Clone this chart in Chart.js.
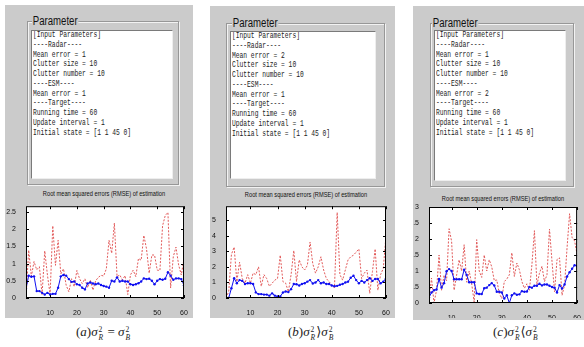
<!DOCTYPE html>
<html lang="en">
<head>
<meta charset="UTF-8">
<title>RMSE of estimation</title>
<script src="https://cdn.jsdelivr.net/npm/chart.js"></script>
<style>
    body {
        margin: 0;
        width: 584px;
        height: 347px;
        position: relative;
        overflow: hidden;
        background: #ffffff;
        font-family: 'Liberation Sans', Arial, sans-serif;
    }
    .panel { position: absolute; background: #cbcbcb; }
    .group {
        position: absolute;
        border: 1px solid #979797;
        box-shadow: 1px 1px 0 #f2f2f2, inset 1px 1px 0 #f2f2f2;
    }
    .group .legend {
        position: absolute;
        top: -8px;
        background: #cbcbcb;
        padding: 0 1px;
        font-size: 12px;
        line-height: 14px;
        color: #111;
        transform: scaleX(0.8);
        transform-origin: left center;
    }
    .textbox {
        position: absolute;
        background: #ffffff;
        border-top: 1px solid #7a7a7a;
        border-left: 1px solid #7a7a7a;
        border-right: 1px solid #eeeeee;
        border-bottom: 1px solid #eeeeee;
        overflow: hidden;
    }
    .textbox pre {
        margin: 0 0 0 1px;
        font-family: 'Liberation Mono', monospace;
        font-size: 8.5px;
        line-height: 9.77px;
        color: #222;
        transform: scaleX(0.74);
        transform-origin: left top;
    }
    .ctitle {
        position: absolute;
        font-size: 7.5px;
        line-height: 8px;
        color: #111;
        white-space: nowrap;
        transform: translateX(-50%) scaleX(0.76);
    }
    canvas { position: absolute; }
    .caption {
        position: absolute;
        top: 324px;
        font-family: 'Liberation Serif', 'DejaVu Serif', serif;
        font-size: 13px;
        color: #222;
        white-space: nowrap;
    }
    .ss {
        display: inline-flex;
        flex-direction: column;
        font-size: 7.5px;
        line-height: 8px;
        vertical-align: 4px;
        margin: 0 1px;
    }
</style>
</head>
<body>
    <div class="panel" style="left:5px;top:5px;width:188px;height:313px"></div>
    <div class="panel" style="left:210px;top:6px;width:185px;height:312px"></div>
    <div class="panel" style="left:413px;top:6px;width:171px;height:314px"></div>

    <div class="group" style="left:27px;top:21px;width:150px;height:162px"><span class="legend" style="left:4px">Parameter</span></div>
    <div class="group" style="left:226px;top:23px;width:157px;height:162px"><span class="legend" style="left:5px">Parameter</span></div>
    <div class="group" style="left:430px;top:23px;width:142px;height:162px"><span class="legend" style="left:1px">Parameter</span></div>

    <div class="textbox" style="left:31px;top:30px;width:140px;height:147px"><pre id="paramsA"></pre></div>
    <div class="textbox" style="left:230px;top:31px;width:144px;height:146px"><pre id="paramsB"></pre></div>
    <div class="textbox" style="left:434px;top:30px;width:130px;height:149px"><pre id="paramsC"></pre></div>

    <div class="ctitle" style="left:104px;top:190px">Root mean squared errors (RMSE) of estimation</div>
    <div class="ctitle" style="left:306px;top:191px">Root mean squared errors (RMSE) of estimation</div>
    <div class="ctitle" style="left:503px;top:195px">Root mean squared errors (RMSE) of estimation</div>

    <canvas id="chartA" width="186" height="116" style="left:6px;top:200px"></canvas>
    <canvas id="chartB" width="184" height="116" style="left:210px;top:200px"></canvas>
    <canvas id="chartC" width="171" height="118" style="left:413px;top:200px"></canvas>

    <div class="caption" style="left:76px">(<i>a</i>)<i>σ</i><span class="ss"><span>2</span><i>R</i></span> = <i>σ</i><span class="ss"><span>2</span><i>B</i></span></div>
    <div class="caption" style="left:288px">(<i>b</i>)<i>σ</i><span class="ss"><span>2</span><i>R</i></span>⟩<i>σ</i><span class="ss"><span>2</span><i>B</i></span></div>
    <div class="caption" style="left:493px">(<i>c</i>)<i>σ</i><span class="ss"><span>2</span><i>R</i></span>⟨<i>σ</i><span class="ss"><span>2</span><i>B</i></span></div>

<script>
    // parameter text shown in the three boxes
    const paramsA = ["[Input Parameters]", "----Radar----", "Mean error = 1", "Clutter size = 10", "Clutter number = 10",
        "----ESM----", "Mean error = 1", "----Target----", "Running time = 60", "Update interval = 1", "Initial state = [1 1 45 0]"];
    const paramsB = ["[Input Parameters]", "----Radar----", "Mean error = 2", "Clutter size = 10", "Clutter number = 10",
        "----ESM----", "Mean error = 1", "----Target----", "Running time = 60", "Update interval = 1", "Initial state = [1 1 45 0]"];
    const paramsC = ["[Input Parameters]", "----Radar----", "Mean error = 1", "Clutter size = 10", "Clutter number = 10",
        "----ESM----", "Mean error = 2", "----Target----", "Running time = 60", "Update interval = 1", "Initial state = [1 1 45 0]"];

    // time steps
    const steps = [1, 2, 3, 4, 5, 6, 7, 8, 9, 10, 11, 12, 13, 14, 15, 16, 17, 18, 19, 20,
        21, 22, 23, 24, 25, 26, 27, 28, 29, 30, 31, 32, 33, 34, 35, 36, 37, 38, 39, 40,
        41, 42, 43, 44, 45, 46, 47, 48, 49, 50, 51, 52, 53, 54, 55, 56, 57, 58, 59, 60];
    const xTicks = [10, 20, 30, 40, 50, 60];

    // (a) red dotted and blue marked RMSE
    const redA = [0, 1.39, 0.63, 1.06, 0.82, 0.91, 0.1, 1.37, 0.67, 0.1, 2.1, 0.95, 1.68, 0.7, 0.85, 0.37, 0.18, 0.56, 0.33, 0.8,
        0.56, 0.42, 0.56, 0.3, 0.52, 0.23, 0.5, 0.6, 0.66, 0.64, 0.85, 1.68, 1.3, 2.18, 0.62, 0.67, 0.53, 0.65, 0.1, 0.67,
        0.81, 0.62, 1.15, 1.1, 1.82, 1.43, 0.72, 1.25, 1.25, 0.81, 0.8, 2.1, 2.4, 2.49, 0.29, 1.2, 1.48, 0.96, 0.67, 1.15];
    const blueA = [0.27, 0.65, 0.62, 0.63, 0.2, 0.2, 0.15, 0.1, 0.15, 0.1, 0.12, 0.12, 0.3, 0.63, 0.67, 0.65, 0.55, 0.47, 0.48, 0.4,
        0.38, 0.3, 0.25, 0.42, 0.45, 0.42, 0.4, 0.42, 0.38, 0.35, 0.33, 0.3, 0.5, 0.48, 0.6, 0.48, 0.5, 0.48, 0.48, 0.4,
        0.38, 0.4, 0.43, 0.48, 0.57, 0.55, 0.56, 0.5, 0.4, 0.5, 0.55, 0.53, 0.56, 0.75, 0.65, 0.53, 0.57, 0.57, 0.55, 0.37];
    const yTicksA = [0, 0.5, 1, 1.5, 2, 2.5];

    // (b)
    const redB = [0, 0.4, 2.8, 3.27, 1.05, 2.3, 1.25, 0.95, 1.5, 0.95, 1.6, 1.5, 2.0, 0.75, 1.5, 1.25, 0.75, 0.95, 1.15, 1.25,
        2.75, 1.05, 0.95, 0.4, 1.5, 3.05, 1.05, 2.45, 2.0, 1.8, 2.1, 3.6, 2.2, 1.6, 2.0, 2.65, 1.8, 1.25, 1.05, 0.85,
        0.65, 5.5, 1.5, 1.15, 1.8, 2.45, 2.65, 2.75, 2.95, 3.15, 1.25, 1.6, 1.8, 0.3, 1.7, 3.15, 0.5, 1.5, 1.9, 4.0];
    const blueB = [0, 0, 0.63, 1.27, 0.95, 1.15, 1.1, 0.9, 0.95, 0.95, 0.9, 0.36, 0.25, 0.25, 0.22, 0.22, 0.15, 0.3, 0.15, 0.1,
        0.1, 0.35, 0.42, 0.38, 0.57, 0.9, 0.88, 0.8, 0.9, 0.95, 1.05, 1.15, 0.93, 1.0, 1.15, 0.95, 1.0, 0.9, 0.9, 0.8,
        0.76, 0.78, 0.85, 0.9, 1.0, 1.05, 1.3, 1.43, 1.15, 0.95, 1.1, 1.0, 1.15, 1.27, 1.1, 1.22, 1.22, 0.95, 1.05, 1.27];
    const yTicksB = [0, 1, 2, 3, 4, 5];

    // (c)
    const redC = [0.1, 0.78, 0, 0.4, 1.5, 0.4, 0.87, 0.7, 2.32, 1.93, 0.4, 0.87, 1.35, 1.0, 1.82, 0.65, 1.0, 0.6, 0.03, 1.98,
        1.0, 0.8, 1.5, 1.0, 1.35, 1.13, 0.7, 0.72, 0.3, 0.14, 0.67, 0.75, 0.88, 1.57, 0.83, 1.25, 1.04, 0.67, 0.46, 0.6,
        0.4, 1.2, 2.26, 0.56, 0.93, 1.15, 0.67, 0.88, 2.31, 1.3, 0.35, 1.36, 1.41, 0.24, 0.56, 1.73, 2.79, 2.05, 1.94, 1.52];
    const blueC = [0.17, 0.33, 0.4, 0.42, 0.75, 0.48, 0.62, 0.99, 1.06, 1.0, 0.74, 0.74, 0.74, 0.74, 1.04, 0.88, 0.65, 0.65, 0.65, 0.3,
        0.28, 0.28, 0.46, 0.48, 0.56, 0.62, 0.55, 0.35, 0.35, 0.33, 0.14, 0.24, 0.0, 0.24, 0.3, 0.26, 0.27, 0.37, 0.35, 0.36,
        0.5, 0.48, 0.54, 0.54, 0.6, 0.55, 0.58, 0.58, 0.54, 0.5, 0.48, 0.33, 0.56, 0.45, 0.58, 0.83, 0.96, 1.07, 1.18, 1.15];
    const yTicksC = [0, 0.5, 1, 1.5, 2, 2.5, 3];

    document.getElementById("paramsA").textContent = paramsA.join("\n");
    document.getElementById("paramsB").textContent = paramsB.join("\n");
    document.getElementById("paramsC").textContent = paramsC.join("\n");

    // white plot area, black box and inward ticks like a matlab axes
    const axesBox = {
        id: 'axesBox',
        beforeDraw(chart) {
            const a = chart.chartArea;
            chart.ctx.save();
            chart.ctx.fillStyle = '#ffffff';
            chart.ctx.fillRect(a.left, a.top, a.right - a.left, a.bottom - a.top);
            chart.ctx.restore();
        },
        afterDatasetsDraw(chart) {
            const ctx = chart.ctx, a = chart.chartArea, x = chart.scales.x, y = chart.scales.y;
            ctx.save();
            ctx.strokeStyle = '#000';
            ctx.lineWidth = 1;
            ctx.strokeRect(a.left + 0.5, a.top + 0.5, a.right - a.left - 1, a.bottom - a.top - 1);
            ctx.beginPath();
            x.ticks.forEach(t => {
                const px = Math.round(x.getPixelForValue(t.value)) + 0.5;
                ctx.moveTo(px, a.bottom); ctx.lineTo(px, a.bottom - 3);
                ctx.moveTo(px, a.top); ctx.lineTo(px, a.top + 3);
            });
            y.ticks.forEach(t => {
                const py = Math.round(y.getPixelForValue(t.value)) + 0.5;
                ctx.moveTo(a.left, py); ctx.lineTo(a.left + 3, py);
                ctx.moveTo(a.right, py); ctx.lineTo(a.right - 3, py);
            });
            ctx.stroke();
            ctx.restore();
        }
    };

    function drawRmse(id, red, blue, yTicks, yMax, yWidth, xHeight, padTop, padRight) {
        const tickFont = { family: 'Liberation Sans', size: 7 };
        new Chart(document.getElementById(id), {
            type: 'line',
            data: {
                datasets: [{
                    data: blue.map((v, i) => ({ x: steps[i], y: v })),
                    borderColor: '#1010f0',
                    backgroundColor: '#1010f0',
                    borderWidth: 1,
                    pointRadius: 1.2,
                    pointBorderWidth: 0,
                    tension: 0
                }, {
                    data: red.map((v, i) => ({ x: steps[i], y: v })),
                    borderColor: '#e25a5a',
                    borderWidth: 1,
                    borderDash: [2, 1.5],
                    pointRadius: 0,
                    tension: 0
                }]
            },
            options: {
                responsive: false,
                animation: false,
                devicePixelRatio: 1,
                layout: { padding: { top: padTop, right: padRight, left: 0, bottom: 0 } },
                plugins: { legend: { display: false }, tooltip: { enabled: false } },
                scales: {
                    x: {
                        type: 'linear', min: 1, max: 60,
                        grid: { display: false }, border: { display: false },
                        ticks: { font: tickFont, color: '#111', padding: 3, maxRotation: 0, callback: v => String(v) },
                        afterBuildTicks: s => { s.ticks = xTicks.map(v => ({ value: v })); },
                        afterFit: s => { s.height = xHeight; }
                    },
                    y: {
                        min: 0, max: yMax,
                        grid: { display: false }, border: { display: false },
                        ticks: { font: tickFont, color: '#111', padding: 2, callback: v => String(v) },
                        afterBuildTicks: s => { s.ticks = yTicks.map(v => ({ value: v })); },
                        afterFit: s => { s.width = yWidth; }
                    }
                }
            },
            plugins: [axesBox]
        });
    }

    drawRmse("chartA", redA, blueA, yTicksA, 2.67, 20, 18, 5, 8);
    drawRmse("chartB", redB, blueB, yTicksB, 5.9, 16, 18, 5, 8);
    drawRmse("chartC", redC, blueC, yTicksC, 3, 16, 15, 7, 5);
</script>
</body>
</html>
